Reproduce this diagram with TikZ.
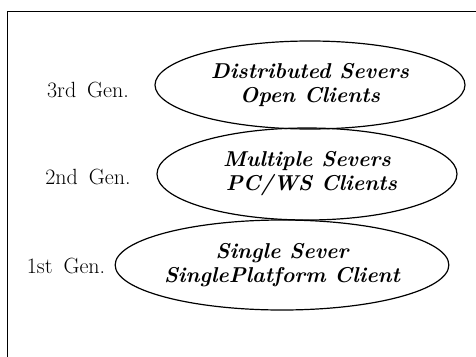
\documentclass[tikz,border=0pt]{standalone}
\usetikzlibrary{shapes.geometric}
\begin{document}
\begin{tikzpicture}[x=1pt,y=-1pt,
  gen/.style={ellipse,draw,line width=1.2pt,inner sep=0pt,font=\fontsize{21.5}{24}\selectfont\bfseries\itshape,align=center},
  lbl/.style={font=\fontsize{22}{24}\selectfont,anchor=center,inner sep=0pt}]
\useasboundingbox (0,0) rectangle (476,356);
\draw[line width=0.9pt] (7,362) -- (7,11) -- (482,11);
\node[gen,minimum width=310,minimum height=88] (g3) at (310,85) {Distributed Severs\\Open Clients};
\node[gen,minimum width=300,minimum height=92] (g2) at (307,174) {Multiple Severs\\\ PC/WS Clients};
\node[gen,minimum width=326,minimum height=90] (g1) at (282,265) {Single Sever\\SinglePlatform Client};
\node[lbl] (l3) at (88,90) {3rd\hspace{0.5em}Gen.};
\node[lbl] (l2) at (88,177) {2nd\hspace{0.5em}Gen.};
\node[lbl] (l1) at (66,266) {1st\hspace{0.5em}Gen.};
\end{tikzpicture}
\end{document}
